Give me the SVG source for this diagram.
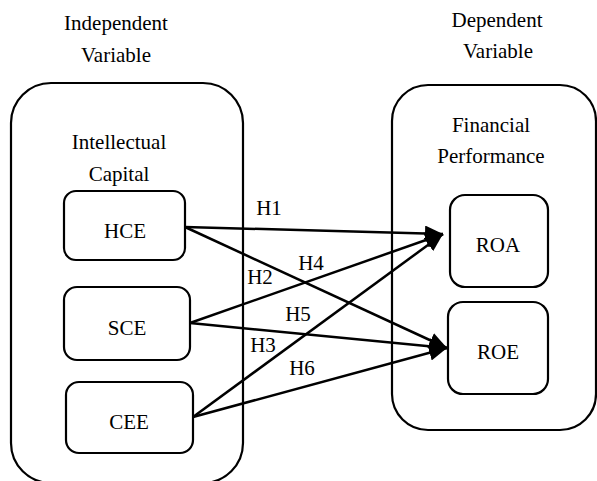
<svg xmlns="http://www.w3.org/2000/svg" width="597" height="481" viewBox="0 0 597 481">
<style>
text{font-family:Liberation Serif, Times New Roman, Times, serif;font-size:21px;fill:#000;text-anchor:middle}
.box{fill:none;stroke:#000;stroke-width:2.2}
.ln{stroke:#000;stroke-width:2.5;fill:none}
</style>
<defs>
<marker id="ah" markerUnits="userSpaceOnUse" markerWidth="20" markerHeight="16" viewBox="0 0 20 16" refX="18" refY="8" orient="auto">
<path d="M0,0 L18,8 L0,16 Z" fill="#000"/>
</marker>
</defs>
<rect width="597" height="481" fill="#fff"/>
<g id="independent">
<rect class="box" x="11" y="83" width="232" height="400" rx="40" ry="40"/>
<text x="116" y="30">Independent</text>
<text x="116" y="62">Variable</text>
<text x="119" y="149">Intellectual</text>
<text x="119" y="181">Capital</text>
</g>
<g id="dependent">
<rect class="box" x="392" y="85" width="204" height="345" rx="36" ry="36"/>
<text x="497" y="27">Dependent</text>
<text x="498" y="58">Variable</text>
<text x="491" y="132">Financial</text>
<text x="491" y="163">Performance</text>
</g>
<g id="hce"><rect class="box" x="64" y="191" width="121" height="69" rx="12"/><text x="125" y="238">HCE</text></g>
<g id="sce"><rect class="box" x="64" y="287" width="126" height="73" rx="13"/><text x="127" y="335">SCE</text></g>
<g id="cee"><rect class="box" x="66" y="382" width="127" height="71" rx="13"/><text x="129" y="429">CEE</text></g>
<g id="roa"><rect class="box" x="450" y="195" width="98" height="92" rx="15"/><text x="498" y="252">ROA</text></g>
<g id="roe"><rect class="box" x="448" y="302" width="100" height="92" rx="15"/><text x="498" y="359">ROE</text></g>
<g id="connectors">
<line class="ln" x1="185" y1="227" x2="443" y2="234" marker-end="url(#ah)"/>
<line class="ln" x1="185" y1="227" x2="447" y2="348" marker-end="url(#ah)"/>
<line class="ln" x1="190" y1="323" x2="443" y2="234" marker-end="url(#ah)"/>
<line class="ln" x1="190" y1="323" x2="447" y2="348" marker-end="url(#ah)"/>
<line class="ln" x1="193" y1="417" x2="443" y2="234" marker-end="url(#ah)"/>
<line class="ln" x1="193" y1="417" x2="447" y2="348" marker-end="url(#ah)"/>
<text x="269" y="215">H1</text>
<text x="260" y="284">H2</text>
<text x="263" y="352">H3</text>
<text x="311" y="270">H4</text>
<text x="298" y="321">H5</text>
<text x="302" y="375">H6</text>
</g>
</svg>
